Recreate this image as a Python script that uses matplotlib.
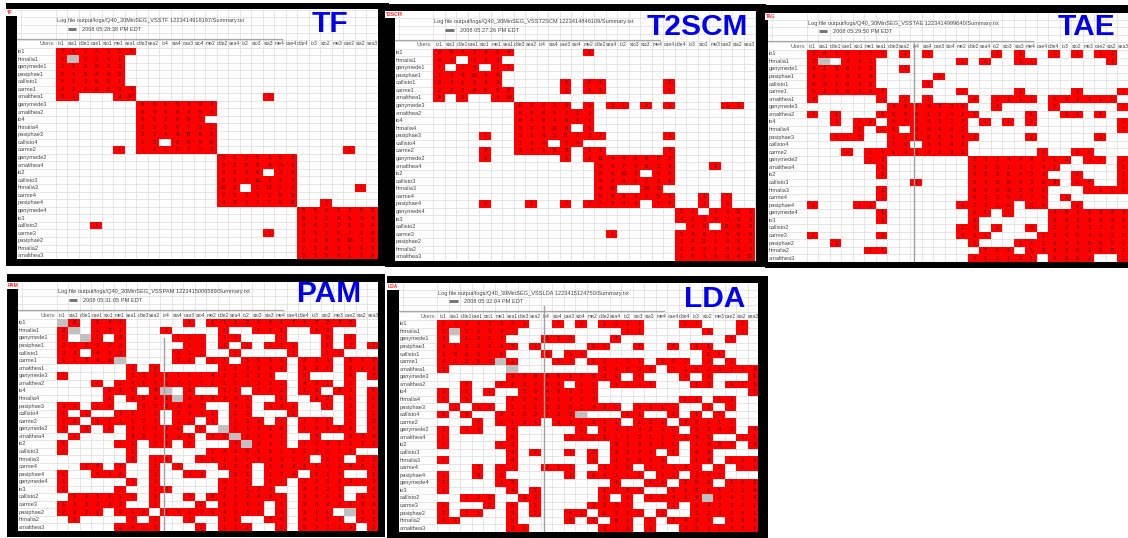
import numpy as np
import matplotlib
matplotlib.use('Agg')
import matplotlib.pyplot as plt
from matplotlib.colors import ListedColormap
from matplotlib.patches import Rectangle

plt.rcParams['font.family'] = ['Liberation Sans', 'DejaVu Sans']

users = ['io1', 'himalia1', 'ganymede1', 'pasiphae1', 'callisto1', 'carme1', 'amalthea1',
         'ganymede3', 'amalthea2', 'io4', 'himalia4', 'pasiphae3', 'callisto4', 'carme2',
         'ganymede2', 'amalthea4', 'io2', 'callisto3', 'himalia3', 'carme4', 'pasiphae4',
         'ganymede4', 'io3', 'callisto2', 'carme3', 'pasiphae2', 'himalia2', 'amalthea3']
columns = ['io1', 'sta1', 'dde1', 'cae1', 'sto1', 'me1', 'sea1', 'dde3', 'sea2', 'io4',
           'sta4', 'cae3', 'sto4', 'me2', 'dde2', 'sea4', 'io2', 'sto3', 'sta3', 'me4',
           'cae4', 'dde4', 'io3', 'sto2', 'me3', 'cae2', 'sta2', 'sea3']

# one string per row, one char per cell: . empty, g grey, else the count in base 36
tf_cells = [
    "3624556 ....... ....... .......",
    "6g2341. ....... ....... .......",
    "213522. ....... ....... .......",
    "545443. ....... ....... .......",
    "652651. ....... ....... .......",
    "4246624 ....... ....... .......",
    "61...3h ....... ....1.. .......",
    "....... 6565434 ....... .......",
    "....... 4466454 ....... .......",
    "....... 463663. ....... .......",
    "....... 2256735 ....... .......",
    "....... 2149b63 ....... .......",
    "....... 12.2656 ....... .......",
    ".....1. 1225742 ....... ....1..",
    "....... ....... d445462 .......",
    "....... ....... 5255445 .......",
    "....... ....... 6636.34 .......",
    "....... ....... 534c227 .......",
    "....... ....... a3.5c22 .....1.",
    "....... ....... 7323195 .......",
    "....... ....... 4327166 ..1....",
    "....... ....... ....... 5562252",
    "....... ....... ....... 6424554",
    "...1... ....... ....... 4652854",
    "....... ....... ....1.. 3575766",
    "....... ....... ....... 2466a72",
    "....... ....... ....... 7533661",
    "....... ....... ....... 5554119",
]
t2scm_cells = [
    "6572414 ......1 ....... .......",
    "42.423. ....... ....... .......",
    "7.24.11 ....... ....... .......",
    "124a44. ....... ....... .......",
    "341543. ....1.1 1.....2 .......",
    "2328532 ....1.1 1.....1 .......",
    "8.3..4e ....... ....... .......",
    "....... 65655.3 .31.1.3 ....12.",
    "....... 6565722 ....... .......",
    "....... 6494611 ....... .......",
    "....... 235b6.5 ....... .......",
    "....1.. 3345b32 1.....2 .......",
    "....... 134.76. ....... .......",
    "....2.. 24255.1 1.....2 .......",
    "....1.. ....1.1 b441962 .......",
    "....... ....... 3474524 ...1...",
    "....... ....... 36a2.45 .......",
    "....... ....... 4649238 .......",
    "....... ....... 46..m3. .......",
    "....... ....... 5543452 ..1.1..",
    "....2.. .1..2.2 2343.18 ..1.1..",
    "....... ....... ....... 52.33b1",
    "....... ....... ....... 4234782",
    "....... ....... ....... .45.b83",
    "....... ....... .1..... 5467566",
    "....... ....... ....... 24b1962",
    "....... ....... ....... 8641592",
    "....... ....... ....... 151334b",
]
tae_cells = [
    "3415432 .1.1... ..1.1.. 1.1.11.",
    "3g.241. ......1 .1..11. .....1.",
    "213612. .1..... ....... .......",
    "424455. ....1.. ....... .......",
    "541644. ...1... ....... .......",
    "5236432 ......1 ....1.. ..2...1",
    "2.....4 .1.1... 4.1111. 432212.",
    "....... 4974224 ..1.... 1.....1",
    "1.1...3 6661141 1....1. .11.1..",
    "..1.11. 5434222 .1.1.1. ......2",
    "....1.1 6.65462 ....... ......2",
    "..112.. 1136854 1....1. ....1..",
    "....... 13.4642 ....... .......",
    "...2.11 1413233 ......2 ..12...",
    ".....12 ....... 5324463 12.31.1",
    "......1 ....... 8351314 1.....1",
    "......1 ....... 5526423 ..1...1",
    "....... ..1.... 5455326 3.11..1",
    "......1 ....... 8653241 ...1111",
    "......1 ....... 6335276 .1.....",
    "2...11. ......4 2316.36 ..2....",
    "......1 ....... 21.1... 4521224",
    "......1 ....... 1...... 6622435",
    "....... ......1 1.1..4. 2243764",
    "1.....2 ......3 21....1 5454635",
    "..1.... ....... 1...111 3445652",
    ".....11 ....... .111.13 4562351",
    "....... ....... 311121. 3552..1",
]
pam_cells = [
    "g2.341. ....1.1 1121112 12222..",
    "2g.131. ..1.... 1..111. .12....",
    "1.g1.2. ...111. 11...1. ..2.2..",
    "212232. ....11. 1.1.121 ..1.1.1",
    "34.413. ...131. .1....1 ..11...",
    "11343g. ...11.1 1.1111. 214.212",
    "......2 .2..... 113222. 321.212",
    "1.....2 3311114 11323.. 2...4.2",
    "...1.14 1622111 112221. 421.1..",
    "....111 .4g.3.. 11.111. 11.22.1",
    "....1.1 611g232 241..1. .12.1.1",
    "31.13.. 322362. .31.321 ..1.2.1",
    "1.1..11 21.2231 .13...1 ....1.1",
    "22.1111 21.11.1 .121.1. 131.1.2",
    "3.2.1.2 1211.1. g21316. 13331.1",
    ".1....2 21211.1 3g2141. .2..223",
    "1....11 .21.1.. .4g311. 1231111",
    "1.....1 ......1 4866511 22111..",
    "......2 .11..11 1373231 1.11.33",
    "..13.1. .1.1... 311.142 1111421",
    "1..423. .1..23. .21.134 .113..1",
    "1.....2 .1..... 311.11. 2351312",
    "1....1. .32.... 42121.. 4222..4",
    ".111111 .1..1.2 112131. 1313.11",
    "111222. .1...2. 1111.1. 3632134",
    "2122.21 2.22121 4211.4. 111.g11",
    ".2....2 .1..1.. 13..34. 4133.52",
    ".....14 11...1. 111..1. 63212.1",
]
lda_cells = [
    "2124333 1..1.2. 1211... 11...1.",
    "1g13321 ....... ..11... ..1..1.",
    "3.1312. ..112.. .1..... ....1..",
    "4132333 .1....1 1..1..2 .11....",
    "332216. ..1.13. ....... ..11...",
    "41263g1 ...11.1 1121.11 1.2.1..",
    "1.....g ....... 22232.1 1522124",
    "......2 6655113 22.1... 1.1...1",
    "..1..12 2764.11 .1111.. .12.111",
    "1.1.1.. 3646311 ....... ......1",
    "2.1...2 6451222 ....... 11.13..",
    ".1.12.1 2232614 12.2111 ..1.1..",
    "2.1..21 12122g. ..11..1 .1.1...",
    "...1.11 21.2212 11.121. 33111..",
    "1.11..4 .....1. 1134213 .3342.2",
    "1.....5 ....211 1112113 131..11",
    "1....12 ....... .323211 .1431.4",
    "......4 .2..1.2 .3273.1 .43....",
    "1.....4 ......1 .13434. .14.123",
    "...2.21 ..111.. 322.143 31.2.31",
    "1..3.3. ....1.1 4113.12 .243...",
    "1....12 ....... .1..11. 153.142",
    "1.....4 .1..... 1124..1 3211224",
    "..131.. 11..... 1.3.114 14g3414",
    "1...3.5 .1....2 332...1 .342341",
    "2.11..3 .1..51. 6221.1. .222331",
    "11....5 ....6.2 .61.1.1 431.332",
    "......3 1...... 211.1.. 3331421",
]

log_files = ['VSSTF 1223414918197', 'VSST2SCM 1223414846109', 'VSSTAE 1223414999640',
             'VSSPAM 1223415006589', 'VSSLDA 1223415124750']
run_times = ['2008 05:28:38 PM EDT', '2008 05:27:26 PM EDT', '2008 05:29:50 PM EDT',
             '2008 05:31:05 PM EDT', '2008 05:32:04 PM EDT']
names = ['TF', 'T2SCM', 'TAE', 'PAM', 'LDA']
all_cells = [tf_cells, t2scm_cells, tae_cells, pam_cells, lda_cells]

W, H = 1128, 538
# pixel layout per panel: black frame, white sheet, first cell, big label centre, grey bar
frames = [(6, 3, 389, 266), (385, 4, 766, 267), (765, 5, 1128, 268), (7, 274, 385, 537), (387, 276, 768, 538)]
sheets = [(17, 9, 378, 259), (395, 11, 756, 261), (768, 13, 1128, 262), (18, 282, 378, 531), (399, 283, 758, 532)]
origins = [(55.7, 47.7), (433.3, 48.7), (806.7, 50), (56.7, 319), (437.3, 320)]
big_xy = [(330, 24), (697.5, 27), (1086, 27), (329, 294), (715, 299)]
bars = [None, None, (9.3, -0.9, 28), (9.33, 2.5, 28), (9.3, -1.8, 28)]
cw, rh = 11.5, 7.57

fig = plt.figure(figsize=(W / 100, H / 100), dpi=100, facecolor='white')
cmap = ListedColormap(['#ff0000', '#c0c0c0'])


def px_axes(x0, y0, x1, y1):
    return fig.add_axes([x0 / W, 1 - y1 / H, (x1 - x0) / W, (y1 - y0) / H])


back = px_axes(0, 0, W, H)
back.set_xlim(0, W)
back.set_ylim(H, 0)
back.axis('off')

for i, name in enumerate(names):
    fx0, fy0, fx1, fy1 = frames[i]
    sx0, sy0, sx1, sy1 = sheets[i]
    ox, oy = origins[i]
    back.add_patch(Rectangle((fx0, fy0), fx1 - fx0, fy1 - fy0, color='black', lw=0, zorder=i))
    back.add_patch(Rectangle((sx0, sy0), sx1 - sx0, sy1 - sy0, color='white', lw=0, zorder=i))
    # tag strip above the left band
    back.add_patch(Rectangle((fx0, sy0), sx0 - fx0, 7, color='white', lw=0, zorder=i))
    back.text(fx0 + 1, sy0 + 3.5, name, color='#ff2020', fontsize=3.6, fontweight='bold',
              va='center', ha='left', clip_on=True, zorder=i)

    ax = px_axes(sx0, sy0, sx1, sy1)
    ax.set_xlim((sx0 - ox) / cw, (sx1 - ox) / cw)
    ax.set_ylim((sy1 - oy) / rh, (sy0 - oy) / rh)
    ax.axis('off')

    x_lines = np.arange(np.ceil(ax.get_xlim()[0]), 29)
    y_lines = np.arange(np.ceil(ax.get_ylim()[1]), 29)
    ax.vlines(x_lines[x_lines >= 0], ax.get_ylim()[1], 28, color='#dcdcdc', lw=0.5, zorder=1)
    ax.vlines(x_lines[x_lines < 0][::3], ax.get_ylim()[1], -1, color='#dcdcdc', lw=0.5, zorder=1)
    ax.hlines(y_lines, ax.get_xlim()[0], 28, color='#dcdcdc', lw=0.5, zorder=1)

    rows = [r.replace(' ', '') for r in all_cells[i]]
    codes = np.ma.masked_all((28, 28))
    for r, row in enumerate(rows):
        for c, ch in enumerate(row):
            if ch == '.':
                continue
            codes[r, c] = 1 if ch == 'g' else 0
            if ch != 'g':
                ax.text(c + 0.55, r + 0.5, str(int(ch, 36)), fontsize=4.3, color='#4a0000',
                        ha='center', va='center', zorder=4, clip_on=True)
    ax.pcolormesh(np.arange(29), np.arange(29), codes, cmap=cmap, vmin=0, vmax=1,
                  shading='flat', zorder=2)

    for r, u in enumerate(users):
        ax.text(ax.get_xlim()[0] + 0.03, r + 0.5, u, fontsize=4.1, color='#444444',
                va='center', ha='left', zorder=4, clip_on=True)
    for c, lab in enumerate(columns):
        ax.text(c + 0.5, -0.5, lab, fontsize=3.6, color='#444444', va='center', ha='center',
                zorder=4, clip_on=True)
    ax.text(-0.05, -0.5, 'Users:', fontsize=3.9, color='#555555', va='center', ha='right', zorder=4)

    # sheet heading
    ax.text(0.1, -27 / rh, 'Log file output/logs/Q40_30MinSEG_' + log_files[i] + '/Summary.txt',
            fontsize=4.1, color='#444444', va='center', ha='left', zorder=4)
    ax.plot([1.05, 1.8], [-18.7 / rh, -18.7 / rh], color='#777777', lw=2.2, zorder=4, solid_capstyle='butt')
    ax.text(2.3, -18.7 / rh, run_times[i], fontsize=4.1, color='#444444', va='center', ha='left', zorder=4)
    ax.plot([ax.get_xlim()[0], 19.7], [-9 / rh, -9 / rh], color='#a8a8a8', lw=0.9, zorder=4)

    if bars[i] is not None:
        bx, by0, by1 = bars[i]
        ax.plot([bx, bx], [by0, by1], color='#a0a0a0', lw=1.0, zorder=5)

over = px_axes(0, 0, W, H)
over.set_xlim(0, W)
over.set_ylim(H, 0)
over.axis('off')
for i, name in enumerate(names):
    over.text(big_xy[i][0], big_xy[i][1], name, color='#0000ee', fontsize=21.5, fontweight='bold',
              ha='center', va='center')

fig.savefig('out.png', dpi=100, facecolor='white')
